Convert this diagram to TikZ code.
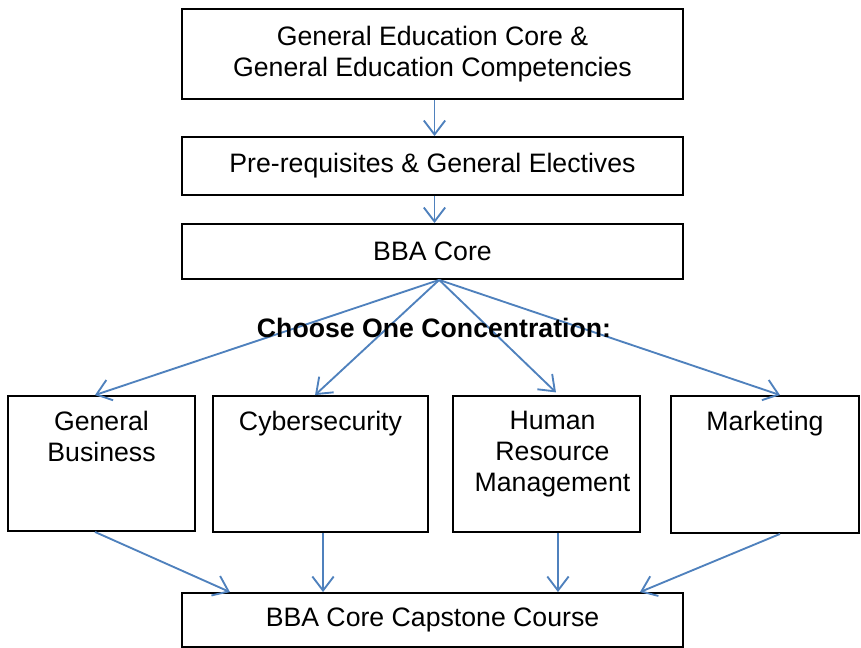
\documentclass[tikz,border=0pt]{standalone}
\usepackage{fontspec}
\setmainfont{Liberation Sans}
\usetikzlibrary{arrows.meta}
\definecolor{flowblue}{RGB}{79,129,189}
\newcommand{\conc}[3]{\parbox[c][#2][t]{#1}{\centering\vspace*{11.5pt}#3}}

\begin{document}
\begin{tikzpicture}[x=0.75pt,y=-0.75pt,
    box/.style={draw, line width=1.4pt, rectangle, inner sep=0pt, align=center,
        font=\fontsize{20}{23.25}\selectfont},
    flow/.style={draw=flowblue, line width=1.4pt,
        -{Straight Barb[length=10.5pt,width=16pt,line width=1.4pt]}}]
                        \useasboundingbox (0,0) rectangle (861,648);

                        \node[box, minimum width=375.75pt, minimum height=67.5pt] (gened) at (432.5,54)
                            {General Education Core \&\\General Education Competencies};
                        \node[box, minimum width=375.75pt, minimum height=43.5pt] (pre) at (432.5,166)
                            {Pre-requisites \& General Electives};
                        \node[box, minimum width=375.75pt, minimum height=41.25pt] (core) at (432.5,251.5)
                            {BBA Core};

                        \node[box] (gb) at (101.5,463.5) {\conc{140.25pt}{101.25pt}{General\\Business}};
                        \node[box] (cyber) at (320.5,464) {\conc{161.25pt}{102pt}{Cybersecurity}};
                        \node[box] (hr) at (546.5,464) {\conc{140.25pt}{102pt}{\leftskip=9pt plus 1fil Human\\Resource\\Management}};
                        \node[box] (mkt) at (765,464.5) {\conc{141pt}{102.75pt}{Marketing}};

                        \node[box, minimum width=375.75pt, minimum height=40.5pt] (cap) at (432.5,620)
                            {BBA Core Capstone Course};

                        \path	([xshift=1.5pt]gened.south)	edge[flow]	([xshift=1.5pt]pre.north)
                        ([xshift=1.5pt]pre.south)	edge[flow]	([xshift=1.5pt]core.north);

                        \path	([xshift=5pt]core.south)	edge[flow]	([xshift=-4.9pt]gb.north)
                        edge[flow]	([xshift=-4.1pt]cyber.north)
                        edge[flow]	([xshift=7.1pt,yshift=2pt]hr.north)
                        edge[flow]	([xshift=11.25pt]mkt.north);

                        \path	([xshift=-4.9pt]gb.south)	edge[flow]	([xshift=-151.9pt]cap.north)
                        ([xshift=1.9pt]cyber.south)	edge[flow]	([xshift=-82.1pt]cap.north)
                        ([xshift=8.6pt]hr.south)	edge[flow]	([xshift=94.1pt]cap.north)
                        ([xshift=11.25pt]mkt.south)	edge[flow]	([xshift=155.6pt]cap.north);

                        \node[font=\fontsize{20}{23.25}\selectfont\bfseries] (choose) at (434,328)
                            {Choose One Concentration:};
                    \end{tikzpicture}
\end{document}
